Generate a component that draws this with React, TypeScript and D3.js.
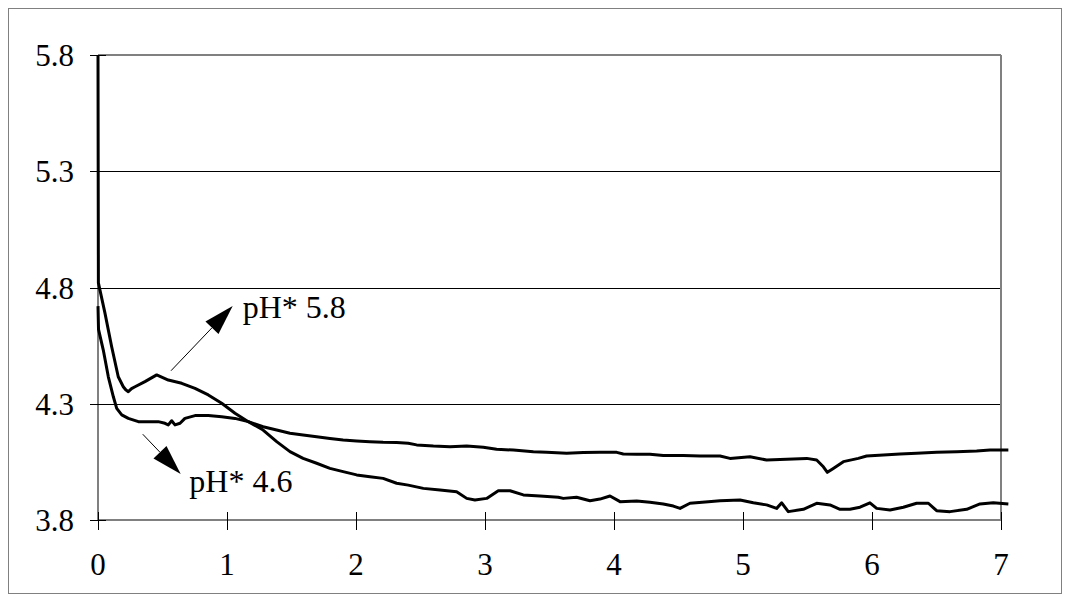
import React from 'react';
import * as d3 from 'd3';

// pH* 5.8 trace (time, pH)
const timeA = [0, 0.003, 0.054, 0.106, 0.157, 0.196, 0.215, 0.235, 0.26, 0.287, 0.364, 0.455, 0.545, 0.649, 0.752, 0.855, 0.959, 1.062, 1.165, 1.28, 1.385, 1.488, 1.59, 1.695, 1.798, 1.9, 2.005, 2.108, 2.21, 2.315, 2.405, 2.522, 2.651, 2.78, 2.858, 2.922, 3.013, 3.103, 3.194, 3.297, 3.426, 3.568, 3.607, 3.71, 3.814, 3.891, 3.969, 4.047, 4.176, 4.279, 4.382, 4.46, 4.512, 4.589, 4.731, 4.822, 4.977, 5.08, 5.183, 5.261, 5.3, 5.351, 5.468, 5.571, 5.674, 5.752, 5.829, 5.907, 5.984, 6.036, 6.14, 6.243, 6.346, 6.437, 6.501, 6.605, 6.734, 6.837, 6.94, 7.057];
const phA = [5.8, 4.82, 4.69, 4.545, 4.416, 4.373, 4.36, 4.352, 4.365, 4.373, 4.395, 4.424, 4.402, 4.388, 4.366, 4.338, 4.302, 4.259, 4.223, 4.187, 4.137, 4.094, 4.065, 4.044, 4.022, 4.008, 3.994, 3.986, 3.979, 3.958, 3.95, 3.936, 3.929, 3.922, 3.893, 3.886, 3.893, 3.926, 3.926, 3.908, 3.903, 3.898, 3.893, 3.898, 3.883, 3.89, 3.903, 3.879, 3.882, 3.876, 3.869, 3.86, 3.85, 3.872, 3.879, 3.883, 3.886, 3.874, 3.865, 3.85, 3.874, 3.836, 3.846, 3.872, 3.865, 3.846, 3.846, 3.855, 3.874, 3.85, 3.843, 3.855, 3.872, 3.872, 3.84, 3.836, 3.846, 3.869, 3.874, 3.869];

// pH* 4.6 trace
const timeB = [0, 0.004, 0.041, 0.08, 0.119, 0.145, 0.184, 0.235, 0.313, 0.39, 0.467, 0.519, 0.545, 0.571, 0.597, 0.636, 0.674, 0.752, 0.855, 0.959, 1.062, 1.165, 1.28, 1.385, 1.488, 1.59, 1.695, 1.798, 1.9, 2.005, 2.108, 2.21, 2.315, 2.405, 2.47, 2.6, 2.729, 2.858, 2.987, 3.09, 3.22, 3.375, 3.478, 3.633, 3.762, 3.891, 4.021, 4.072, 4.175, 4.279, 4.382, 4.537, 4.667, 4.822, 4.899, 5.054, 5.183, 5.339, 5.494, 5.571, 5.623, 5.654, 5.7, 5.778, 5.894, 5.958, 6.088, 6.217, 6.346, 6.501, 6.656, 6.811, 6.915, 7.057];
const phB = [4.72, 4.62, 4.531, 4.416, 4.33, 4.28, 4.252, 4.237, 4.223, 4.223, 4.223, 4.216, 4.209, 4.227, 4.209, 4.216, 4.237, 4.249, 4.249, 4.244, 4.237, 4.223, 4.201, 4.187, 4.173, 4.166, 4.158, 4.151, 4.144, 4.14, 4.137, 4.134, 4.133, 4.13, 4.123, 4.118, 4.115, 4.118, 4.113, 4.104, 4.101, 4.094, 4.091, 4.087, 4.09, 4.091, 4.091, 4.084, 4.083, 4.083, 4.077, 4.077, 4.075, 4.075, 4.065, 4.072, 4.058, 4.061, 4.065, 4.058, 4.029, 4.005, 4.022, 4.051, 4.065, 4.075, 4.08, 4.084, 4.087, 4.091, 4.094, 4.097, 4.101, 4.101];

const xTicks = [0, 1, 2, 3, 4, 5, 6, 7];
const yTicks = [3.8, 4.3, 4.8, 5.3, 5.8];

// annotations: [fromT, fromPh, tipT, tipPh], label [t, ph]
const arrowA = [0.566, 4.442, 1.044, 4.72];
const labelA = [1.122, 4.668];
const arrowB = [0.347, 4.169, 0.641, 3.998];
const labelB = [0.708, 3.922];

const W = 1070, H = 602;
const left = 98, right = 1001, top = 55, bottom = 520;
const font = "'Liberation Serif', 'Times New Roman', Tinos, 'DejaVu Serif', serif";

const x = d3.scaleLinear().domain([0, 7]).range([left, right]);
const y = d3.scaleLinear().domain([3.8, 5.8]).range([bottom, top]);

const line = d3.line<[number, number]>()
  .x(d => x(d[0]))
  .y(d => y(d[1]));

function Arrow({ a }: { a: number[] }) {
  const x1 = x(a[0]), y1 = y(a[1]), x2 = x(a[2]), y2 = y(a[3]);
  const ang = Math.atan2(y2 - y1, x2 - x1);
  const len = 30, hw = 9;
  const bx = x2 - len * Math.cos(ang), by = y2 - len * Math.sin(ang);
  const px = -Math.sin(ang) * hw, py = Math.cos(ang) * hw;
  const pts = `${x2},${y2} ${bx + px},${by + py} ${bx - px},${by - py}`;
  return (
    <g>
      <line x1={x1} y1={y1} x2={bx} y2={by} stroke="#000" strokeWidth={1} />
      <polygon points={pts} fill="#000" />
    </g>
  );
}

export default function App() {
  const dataA = timeA.map((t, i) => [t, phA[i]] as [number, number]);
  const dataB = timeB.map((t, i) => [t, phB[i]] as [number, number]);
  const txt = { fontFamily: font, fill: '#000' };

  return (
    <div style={{ position: 'absolute', left: 0, top: 0 }}>
      <svg width={W} height={H} style={{ display: 'block', background: '#fff' }}>
        {/* outer frame */}
        <rect x={8.5} y={8.5} width={1053} height={585} fill="#fff" stroke="#808080" strokeWidth={1} />

        {/* grid lines */}
        {yTicks.slice(1, 4).map(v => (
          <line key={v} x1={left} x2={right} y1={Math.round(y(v)) + 0.5} y2={Math.round(y(v)) + 0.5} stroke="#000" strokeWidth={1} />
        ))}

        {/* plot border */}
        <line x1={left} x2={right} y1={top} y2={top} stroke="#808080" strokeWidth={2} />
        <line x1={right} x2={right} y1={top} y2={bottom} stroke="#808080" strokeWidth={2} />
        <line x1={left} x2={right} y1={bottom} y2={bottom} stroke="#808080" strokeWidth={2} />
        <line x1={left} x2={left} y1={top} y2={bottom} stroke="#808080" strokeWidth={2} />

        {/* y ticks + labels */}
        {yTicks.map(v => (
          <g key={v}>
            <line x1={90} x2={106} y1={Math.round(y(v)) + 0.5} y2={Math.round(y(v)) + 0.5} stroke="#000" strokeWidth={1} />
            <text x={74} y={y(v) + 11} textAnchor="end" fontSize={31} style={txt}>{v.toFixed(1)}</text>
          </g>
        ))}

        {/* x ticks + labels */}
        {xTicks.map(t => (
          <g key={t}>
            <line x1={Math.round(x(t)) + 0.5} x2={Math.round(x(t)) + 0.5} y1={512} y2={530} stroke="#000" strokeWidth={1} />
            <text x={x(t)} y={575} textAnchor="middle" fontSize={31} style={txt}>{t}</text>
          </g>
        ))}

        {/* traces */}
        <path d={line(dataB) || ''} fill="none" stroke="#000" strokeWidth={3} strokeLinejoin="round" />
        <path d={line(dataA) || ''} fill="none" stroke="#000" strokeWidth={3} strokeLinejoin="round" />

        {/* annotations */}
        <Arrow a={arrowA} />
        <Arrow a={arrowB} />
        <text x={x(labelA[0])} y={y(labelA[1])} fontSize={32} style={txt}>pH* 5.8</text>
        <text x={x(labelB[0])} y={y(labelB[1])} fontSize={32} style={txt}>pH* 4.6</text>
      </svg>
    </div>
  );
}
